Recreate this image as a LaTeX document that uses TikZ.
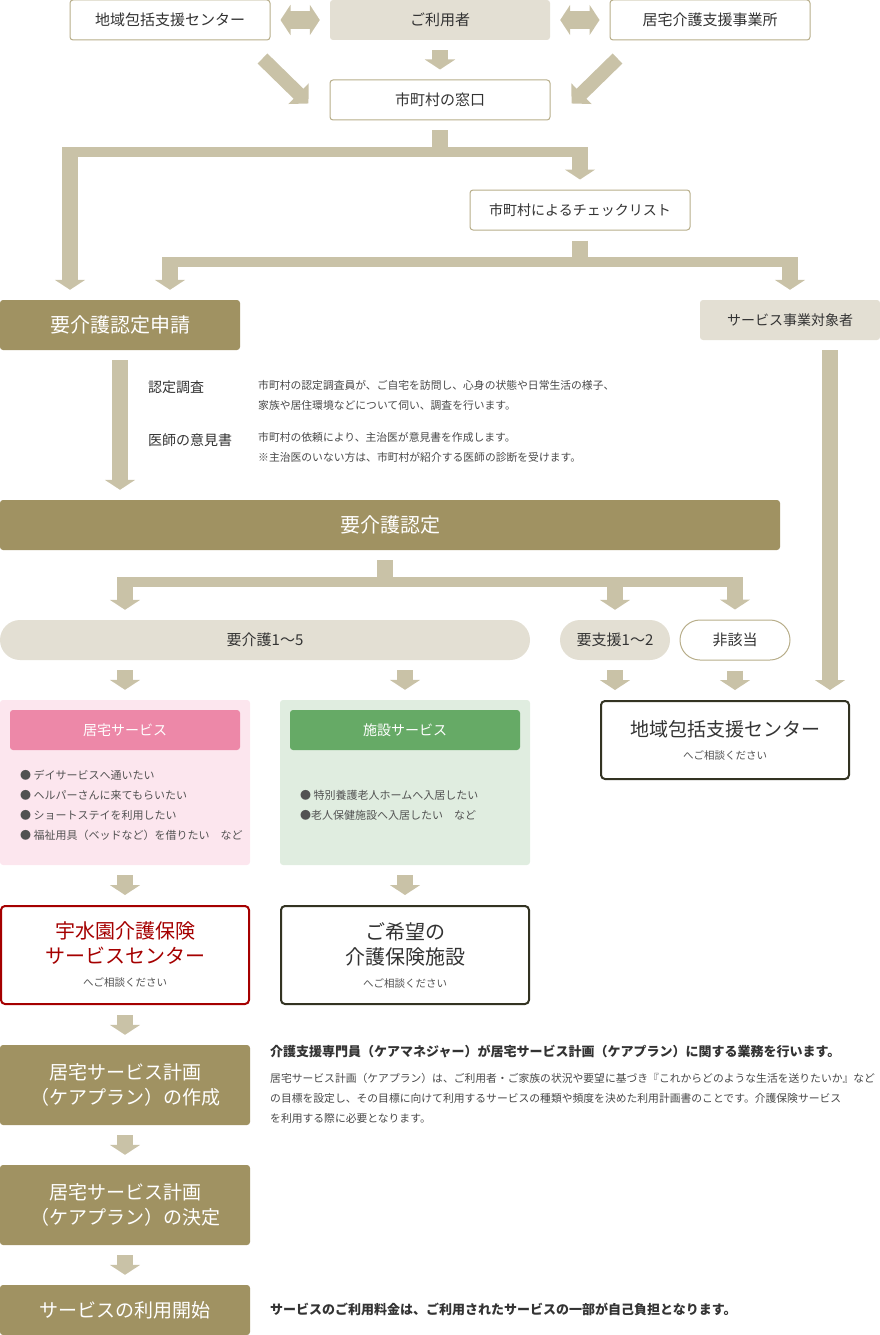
\documentclass[tikz,border=0pt]{standalone}
\usepackage{fontspec}
\setmainfont{Noto Sans CJK JP}
\usetikzlibrary{arrows.meta,positioning,calc}

\definecolor{arrowc}{RGB}{201,194,167}
\definecolor{olivec}{RGB}{160,146,98}
\definecolor{beigec}{RGB}{227,223,211}
\definecolor{linec}{RGB}{184,174,138}
\definecolor{pinkc}{RGB}{237,136,168}
\definecolor{pinkbg}{RGB}{252,230,238}
\definecolor{greenc}{RGB}{102,170,102}
\definecolor{greenbg}{RGB}{224,237,224}
\definecolor{redc}{RGB}{165,0,0}
\definecolor{darkc}{RGB}{51,51,34}
\definecolor{textc}{RGB}{51,51,51}

\newcommand{\pxfont}[2]{\fontsize{#1}{#2}\selectfont}

\begin{document}
\begin{tikzpicture}[x=1pt, y=-1pt,
  every node/.style={inner sep=0pt, text=textc},
  whitebox/.style={draw=linec, line width=1pt, fill=white, rounded corners=3pt, minimum height=40pt, font=\pxfont{15}{18}},
  beigebox/.style={fill=beigec, rounded corners=3pt, minimum height=40pt, font=\pxfont{15}{18}},
  olivebox/.style={fill=olivec, rounded corners=3pt, text=white, align=center, font=\pxfont{19}{25}},
  pill/.style={rounded corners=20pt, minimum height=40pt, font=\pxfont{15}{18}},
  panel/.style={rounded corners=3pt, minimum width=250pt, minimum height=165pt},
  panelhead/.style={rounded corners=3pt, minimum width=230pt, minimum height=40pt, text=white, font=\pxfont{14}{18}},
  bulletlist/.style={anchor=west, align=left, font=\pxfont{11}{20}, text=textc!85},
  framebox/.style={draw=darkc, line width=2pt, fill=white, rounded corners=4pt, minimum width=248pt, align=center, font=\pxfont{20}{25}},
  note/.style={anchor=west, align=left, font=\pxfont{10.8}{20}, text=textc!90},
  head/.style={anchor=west, font=\pxfont{13}{16}\bfseries},
  pipe/.style={draw=arrowc, line width=16pt},
  rail/.style={draw=arrowc, line width=10pt},
  fatarrow/.style={pipe, -{Triangle[width=30pt,length=10pt]}},
  twoway/.style={draw=arrowc, line width=18pt, {Triangle[width=30pt,length=10pt]}-{Triangle[width=30pt,length=10pt]}, shorten <=10pt, shorten >=10pt},
  slant/.style={draw=arrowc, line width=14pt, -{Triangle[width=28pt,length=14pt]}}
]
  \useasboundingbox (0,0) rectangle (880,1335);

  % ---- who comes to the municipal desk
  \node[whitebox, minimum width=200pt] (houkatsu) at (170,20) {地域包括支援センター};
  \node[beigebox, minimum width=220pt] (riyousha) at (440,20) {ご利用者};
  \node[whitebox, minimum width=200pt] (jigyousho) at (710,20) {居宅介護支援事業所};
  \node[whitebox, minimum width=220pt] (madoguchi) at (440,100) {市町村の窓口};
  \draw[twoway] (houkatsu) -- (riyousha);
  \draw[twoway] (riyousha) -- (jigyousho);
  \draw[fatarrow, shorten <=10pt, shorten >=10pt] (riyousha) -- (madoguchi);
  \draw[slant] ([xshift=-8pt,yshift=-18pt]houkatsu.south east) -- ([xshift=-21pt,yshift=-24pt]madoguchi.north west);
  \draw[slant] ([xshift=8pt,yshift=-18pt]jigyousho.south west) -- ([xshift=21pt,yshift=-24pt]madoguchi.north east);

  % ---- desk -> application / checklist
  \node[whitebox, minimum width=220pt, font=\pxfont{14}{18}] (checklist) at (580,210) {市町村によるチェックリスト};
  \node[olivebox, minimum width=240pt, minimum height=50pt, font=\pxfont{20}{25}] (shinsei) at (120,325) {要介護認定申請};
  \node[beigebox, minimum width=180pt, font=\pxfont{14}{18}] (taishousha) at (790,320) {サービス事業対象者};
  \coordinate (j1) at (440,152);
  \coordinate (b1l) at (70,152);
  \coordinate (b1r) at (580,152);
  \draw[pipe] ([yshift=-10pt]madoguchi.south) -- (j1);
  \draw[rail] ([xshift=-8pt]b1l) -- ([xshift=8pt]b1r);
  \draw[fatarrow, shorten >=10pt] ([yshift=5pt]b1l) -- (b1l |- shinsei.north);
  \draw[fatarrow, shorten >=10pt] ([yshift=5pt]b1r) -- (b1r |- checklist.north);
  \coordinate (j2) at (580,262);
  \coordinate (b2l) at (170,262);
  \coordinate (b2r) at (790,262);
  \draw[pipe] ([yshift=-10pt]checklist.south) -- (j2);
  \draw[rail] ([xshift=-8pt]b2l) -- ([xshift=8pt]b2r);
  \draw[fatarrow, shorten >=10pt] ([yshift=4pt]b2l) -- (b2l |- shinsei.north);
  \draw[fatarrow, shorten >=10pt] ([yshift=4pt]b2r) -- (b2r |- taishousha.north);

  % ---- survey and doctor's opinion
  \node[olivebox, minimum width=780pt, minimum height=50pt, font=\pxfont{20}{25}] (nintei) at (390,525) {要介護認定};
  \draw[fatarrow, shorten <=10pt, shorten >=10pt] (shinsei.south) -- (shinsei.south |- nintei.north);
  \node[anchor=west, font=\pxfont{14}{18}] (chousa) at (148,387) {認定調査};
  \node[note] (chousatext) at (258,395) {市町村の認定調査員が、ご自宅を訪問し、心身の状態や日常生活の様子、\\家族や居住環境などについて伺い、調査を行います。};
  \node[anchor=west, font=\pxfont{14}{18}] (ishi) at (148,440) {医師の意見書};
  \node[note] (ishitext) at (258,447) {市町村の依頼により、主治医が意見書を作成します。\\※主治医のいない方は、市町村が紹介する医師の診断を受けます。};

  % ---- result of the certification
  \node[pill, fill=beigec, minimum width=530pt] (kaigo) at (265,640) {要介護1〜5};
  \node[pill, fill=beigec, minimum width=110pt] (shien) at (615,640) {要支援1〜2};
  \node[pill, draw=linec, line width=1pt, fill=white, minimum width=110pt] (higaitou) at (735,640) {非該当};
  \coordinate (j3) at (385,582);
  \coordinate (s3) at (j3 |- nintei.south);
  \coordinate (b3a) at (125,582);
  \coordinate (b3b) at (615,582);
  \coordinate (b3c) at (735,582);
  \draw[pipe] ([yshift=-10pt]s3) -- (j3);
  \draw[rail] ([xshift=-8pt]b3a) -- ([xshift=8pt]b3c);
  \foreach \b/\t in {b3a/kaigo,b3b/shien,b3c/higaitou} {
    \draw[fatarrow, shorten >=10pt] ([yshift=5pt]\b) -- (\b |- \t.north);
  }

  % ---- services
  \node[panel, fill=pinkbg] (kyotaku) at (125,782.5) {};
  \node[panelhead, fill=pinkc, below=10pt of kyotaku.north] (kyotakuhead) {居宅サービス};
  \node[bulletlist] (kyotakulist) at (20,805) {● デイサービスへ通いたい\\● ヘルパーさんに来てもらいたい\\● ショートステイを利用したい\\● 福祉用具（ベッドなど）を借りたい　など};
  \node[panel, fill=greenbg] (shisetsu) at (405,782.5) {};
  \node[panelhead, fill=greenc, below=10pt of shisetsu.north] (shisetsuhead) {施設サービス};
  \node[bulletlist] (shisetsulist) at (300,805) {● 特別養護老人ホームへ入居したい\\●老人保健施設へ入居したい　など};
  \node[framebox, minimum height=78pt, font=\pxfont{19}{25}] (houkatsu2) at (725,740) {地域包括支援センター\\[-2pt]{\pxfont{10.5}{14}\color{textc!85}へご相談ください}};
  \draw[fatarrow, shorten <=10pt, shorten >=10pt] (kyotaku.north |- kaigo.south) -- (kyotaku.north);
  \draw[fatarrow, shorten <=10pt, shorten >=10pt] (shisetsu.north |- kaigo.south) -- (shisetsu.north);
  \draw[fatarrow, shorten <=10pt, shorten >=10pt] (shien.south) -- (shien.south |- houkatsu2.north);
  \draw[fatarrow, shorten <=10pt, shorten >=10pt] (higaitou.south) -- (higaitou.south |- houkatsu2.north);
  \coordinate (t1) at ([xshift=40pt]taishousha.south);
  \draw[fatarrow, shorten >=10pt] ([yshift=-10pt]t1) -- (t1 |- houkatsu2.north);

  % ---- where to ask
  \node[framebox, draw=redc, text=redc, minimum height=98pt] (usuien) at (125,955) {宇水園介護保険\\サービスセンター\\[-2pt]{\pxfont{10.5}{14}\color{textc!85}へご相談ください}};
  \node[framebox, minimum height=98pt] (kibou) at (405,955) {ご希望の\\介護保険施設\\[-2pt]{\pxfont{10.5}{14}\color{textc!85}へご相談ください}};
  \draw[fatarrow, shorten <=10pt, shorten >=10pt] (kyotaku) -- (usuien);
  \draw[fatarrow, shorten <=10pt, shorten >=10pt] (shisetsu) -- (kibou);

  % ---- care plan
  \node[olivebox, minimum width=250pt, minimum height=80pt] (sakusei) at (125,1085) {居宅サービス計画\\（ケアプラン）の作成};
  \node[olivebox, minimum width=250pt, minimum height=80pt] (kettei) at (125,1205) {居宅サービス計画\\（ケアプラン）の決定};
  \node[olivebox, minimum width=250pt, minimum height=50pt] (kaishi) at (125,1310) {サービスの利用開始};
  \draw[fatarrow, shorten <=10pt, shorten >=10pt] (usuien) -- (sakusei);
  \draw[fatarrow, shorten <=10pt, shorten >=10pt] (sakusei) -- (kettei);
  \draw[fatarrow, shorten <=10pt, shorten >=10pt] (kettei) -- (kaishi);
  \node[head] (sakuseihead) at (270,1052) {介護支援専門員（ケアマネジャー）が居宅サービス計画（ケアプラン）に関する業務を行います。};
  \node[note] (sakuseitext) at (270,1098) {居宅サービス計画（ケアプラン）は、ご利用者・ご家族の状況や要望に基づき『これからどのような生活を送りたいか』など\\の目標を設定し、その目標に向けて利用するサービスの種類や頻度を決めた利用計画書のことです。介護保険サービス\\を利用する際に必要となります。};
  \node[head] (kaishitext) at (270,1309) {サービスのご利用料金は、ご利用されたサービスの一部が自己負担となります。};
\end{tikzpicture}
\end{document}
